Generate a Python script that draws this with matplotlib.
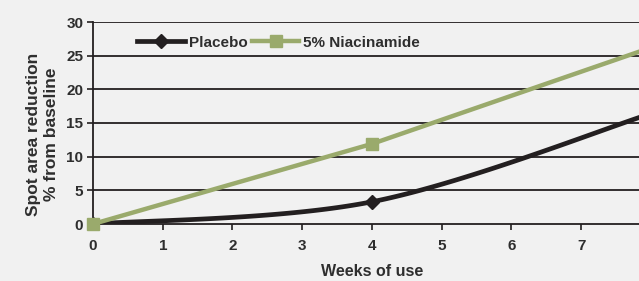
import numpy as np
import matplotlib
matplotlib.use("Agg")
import matplotlib.pyplot as plt

weeks = [0, 4, 8]
placebo = [0.0, 3.3, 16.4]
niacinamide = [0.0, 11.9, 26.2]
xticks = [0, 1, 2, 3, 4, 5, 6, 7]
yticks = [0, 5, 10, 15, 20, 25, 30]

BLACK = "#231f20"
GREEN = "#9aaa6c"
BG = "#f1f1f1"
TXT = "#2e2e2e"

plt.rcParams['font.family'] = ['Liberation Sans', 'DejaVu Sans']
plt.rcParams['font.weight'] = 'bold'


def smooth(xs, ys, n=60):
    # Excel-style smoothed line (Bezier through points, tension 1/6)
    P = np.column_stack([xs, ys]).astype(float)
    ext = np.vstack([P[0], P, P[-1]])
    out = []
    for i in range(len(P) - 1):
        p0, p1 = P[i], P[i + 1]
        c1 = p0 + (ext[i + 2] - ext[i]) / 6.0
        c2 = p1 - (ext[i + 3] - ext[i + 1]) / 6.0
        t = np.linspace(0, 1, n)[:, None]
        b = ((1 - t) ** 3) * p0 + 3 * ((1 - t) ** 2) * t * c1 + 3 * (1 - t) * t ** 2 * c2 + t ** 3 * p1
        out.append(b if i == 0 else b[1:])
    out = np.vstack(out)
    return out[:, 0], out[:, 1]


fig = plt.figure(figsize=(6.39, 2.81), dpi=100, facecolor=BG)
W, H = 639, 281
x0, x8 = 93, 651
y0, y30 = 224, 22
ax = fig.add_axes([x0 / W, 1 - y0 / H, (x8 - x0) / W, (y0 - y30) / H])
ax.set_facecolor(BG)

ax.set_xlim(0, 8)
ax.set_ylim(0, 30)
for y in yticks[1:]:
    ax.axhline(y, color=BLACK, lw=1.3, zorder=1)

sx, sy = smooth(weeks, placebo)
ax.plot(sx, sy, color=BLACK, lw=3.4, zorder=3, solid_capstyle='butt')
ax.plot(weeks, placebo, ls='none', marker='D', ms=7, color=BLACK, zorder=4)
ax.plot(weeks, niacinamide, color=GREEN, lw=3.2, marker='s', ms=8, zorder=6,
        solid_capstyle='butt', clip_on=False)

# legend proxies
ax.plot([], [], color=BLACK, lw=3.4, marker='D', ms=7, label='Placebo')
ax.plot([], [], color=GREEN, lw=3.2, marker='s', ms=8, label='5% Niacinamide')
handles, labels = ax.get_legend_handles_labels()
leg = ax.legend(handles[-2:], labels[-2:], ncol=2, frameon=False,
                loc='upper left', bbox_to_anchor=(0.055, 1.0),
                handlelength=3.1, handletextpad=0.25, columnspacing=0.3,
                prop={'size': 11, 'weight': 'bold'})
for t in leg.get_texts():
    t.set_color(TXT)

for s in ['top', 'right']:
    ax.spines[s].set_visible(False)
ax.spines['left'].set_color(BLACK)
ax.spines['left'].set_linewidth(1.3)
ax.spines['bottom'].set_color(BLACK)
ax.spines['bottom'].set_linewidth(1.3)
ax.spines['left'].set_zorder(5)

ax.set_xticks(xticks)
ax.set_yticks(yticks)
ax.tick_params(axis='both', colors=BLACK, labelsize=11, width=1.2, length=4)
ax.tick_params(axis='x', pad=7)
ax.tick_params(axis='y', pad=3)
for lab in ax.get_xticklabels() + ax.get_yticklabels():
    lab.set_fontweight('bold')
    lab.set_color(TXT)

ax.set_xlabel('Weeks of use', fontsize=11.5, fontweight='bold', color=TXT, labelpad=8)
fig.text(34 / W, 1 - 134 / H, 'Spot area reduction', rotation=90, ha='center', va='center',
         fontsize=12.5, fontweight='bold', color=TXT)
fig.text(52 / W, 1 - 134 / H, '% from baseline', rotation=90, ha='center', va='center',
         fontsize=12.5, fontweight='bold', color=TXT)

fig.savefig('out.png', dpi=100, facecolor=BG)
